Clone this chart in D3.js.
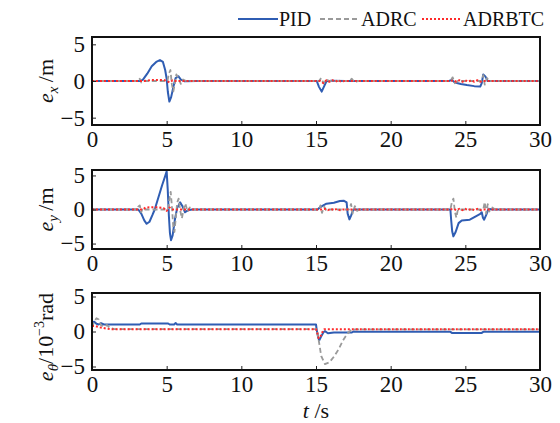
<!DOCTYPE html>
<html>
<head>
<meta charset="utf-8">
<script src="https://cdn.jsdelivr.net/npm/d3@7"></script>
<style>
  body { margin: 0; background: #fff; }
  svg { display: block; }
  svg text { font-family: "Liberation Serif", "Times New Roman", serif; }
</style>
</head>
<body>
<svg id="chart" width="560" height="423"></svg>
<script>
// valores: [t (s), erro]
const xTicks = [0, 5, 10, 15, 20, 25, 30];
const yTicks = [-5, 0, 5];
const seriesNames = ["PID", "ADRC", "ADRBTC"];

const exPID = [[0,0],[3.2,0],[3.4,0.15],[3.7,1.0],[4.0,2.0],[4.3,2.6],[4.55,2.85],[4.75,2.6],[4.9,1.5],[5.0,0.3],[5.08,-1.5],[5.18,-2.8],[5.3,-2.2],[5.45,-0.8],[5.6,0.4],[5.78,0.65],[5.95,0.2],[6.2,-0.05],[7,0],[15.05,0],[15.2,-0.8],[15.38,-1.45],[15.55,-0.7],[15.7,-0.05],[16.0,0.05],[17,0],[23.9,0],[24.1,0.15],[24.3,-0.2],[24.7,-0.4],[25.1,-0.55],[25.6,-0.7],[26.0,-0.75],[26.1,-0.3],[26.2,0.9],[26.35,0.6],[26.5,0],[30,0]];
const exADRC = [[0,0],[3.1,0],[3.2,0.3],[3.3,-0.2],[3.4,0],[5.05,0],[5.15,1.0],[5.25,1.5],[5.35,-0.5],[5.45,-1.4],[5.55,-0.3],[5.65,0.9],[5.8,0.3],[5.95,-0.4],[6.1,0.2],[6.3,0],[15.2,0],[15.35,0.4],[15.5,-0.3],[15.7,0.2],[15.9,0],[17.2,0],[17.4,0.3],[17.6,-0.2],[17.8,0],[24.0,0],[24.15,0.5],[24.3,-0.3],[24.5,0],[26.1,0],[26.2,0.8],[26.3,-0.5],[26.45,0.4],[26.6,0],[30,0]];
const exADRBTC = [[0,0],[3.5,0],[4.0,0.15],[4.8,0.15],[5.0,0],[5.2,-0.2],[5.4,0.1],[5.6,0],[15.3,0],[15.5,-0.3],[15.7,0.1],[15.9,-0.1],[16.1,0.1],[16.3,-0.1],[16.5,0.1],[16.7,-0.1],[16.9,0],[24.0,0],[24.2,0.1],[24.4,-0.1],[24.6,0.1],[24.8,-0.1],[25.0,0.1],[25.2,-0.1],[25.4,0.1],[25.6,-0.1],[25.8,0.1],[26.0,-0.1],[26.2,0],[30,0]];

const eyPID = [[0,0],[3.1,0],[3.3,-0.6],[3.5,-1.6],[3.66,-2.1],[3.85,-1.8],[4.05,-0.8],[4.2,0],[4.45,1.8],[4.7,3.6],[4.9,4.9],[5.0,5.6],[5.07,3.0],[5.15,-1.0],[5.22,-3.5],[5.29,-4.5],[5.4,-3.8],[5.55,-1.5],[5.7,0.2],[5.9,1.05],[6.05,0.5],[6.23,-0.4],[6.45,-0.1],[6.7,0],[15.1,0],[15.2,0.2],[15.4,0.5],[15.7,0.85],[16.2,1.0],[16.6,1.25],[16.85,1.3],[17.05,1.05],[17.12,-0.6],[17.24,-1.45],[17.35,-0.9],[17.5,0],[24.0,0],[24.05,-1.5],[24.12,-3.2],[24.2,-3.95],[24.35,-3.3],[24.55,-2.0],[24.76,-1.6],[25.3,-1.5],[25.7,-1.0],[26.0,-0.65],[26.1,-0.4],[26.18,-1.2],[26.26,-1.5],[26.4,-0.8],[26.55,0.1],[26.8,0],[30,0]];
const eyADRC = [[0,0],[3.05,0],[3.1,0.4],[3.2,0.6],[3.3,-0.4],[3.4,0.2],[3.5,0],[5.1,0],[5.18,1.5],[5.27,2.6],[5.35,0.5],[5.45,-2.8],[5.52,-3.3],[5.6,-1.5],[5.7,1.0],[5.8,1.6],[5.92,-0.3],[6.02,-1.3],[6.15,0.2],[6.25,0.9],[6.4,-0.3],[6.55,0.3],[6.7,0],[15.2,0],[15.3,0.6],[15.4,-0.5],[15.55,0.4],[15.7,-0.2],[15.9,0],[17.2,0],[17.35,0.8],[17.45,-0.6],[17.6,0.5],[17.75,-0.2],[17.9,0],[24.0,0],[24.1,1.1],[24.2,1.6],[24.3,-0.3],[24.4,-1.2],[24.5,0],[26.2,0],[26.3,1.1],[26.4,-0.6],[26.5,0.8],[26.6,-0.3],[26.8,0.3],[27.0,0],[30,0]];
const eyADRBTC = [[0,0],[3.4,0],[3.6,0.3],[4.4,0.35],[4.8,0.2],[5.0,-0.2],[5.2,0.3],[5.4,0],[15.4,0],[15.6,0.1],[15.8,-0.1],[16.0,0.1],[16.2,-0.1],[16.4,0.1],[16.6,-0.1],[16.8,0],[24.0,0],[24.2,0.1],[24.4,-0.1],[24.6,0.1],[24.8,-0.1],[25.0,0.1],[25.2,-0.1],[25.4,0.1],[25.6,-0.1],[25.8,0.1],[26.0,-0.1],[26.2,0],[30,0]];

const etPID = [[0,1.3],[0.15,1.4],[0.3,1.1],[0.45,1.0],[0.6,1.2],[0.8,1.0],[3.2,1.0],[3.3,1.15],[5.1,1.15],[5.2,1.0],[5.5,1.0],[5.6,1.2],[5.7,1.0],[15.0,1.0],[15.05,0.2],[15.15,-0.9],[15.22,-1.25],[15.35,-0.7],[15.5,-0.1],[15.6,0.05],[15.8,-0.25],[16.2,-0.15],[17.4,-0.15],[17.5,0],[17.7,-0.05],[24.0,-0.05],[24.1,-0.2],[26.1,-0.2],[26.2,-0.05],[30,-0.05]];
const etADRC = [[0,0.6],[0.15,1.4],[0.3,1.9],[0.45,1.7],[0.6,0.9],[0.8,0.7],[1.0,0.95],[1.2,0.5],[1.5,0.35],[15.05,0.35],[15.2,-1.5],[15.35,-3.5],[15.6,-4.65],[15.9,-4.4],[16.2,-3.6],[16.5,-2.6],[16.8,-1.3],[17.1,-0.3],[17.35,0.2],[17.6,0.3],[30,0.3]];
const etADRBTC = [[0,0.8],[0.2,0.8],[0.5,0.6],[1.0,0.4],[1.3,0.33],[15.0,0.33],[15.1,-0.3],[15.18,-0.95],[15.3,-0.7],[15.45,0],[15.55,0.33],[30,0.33]];

const cores = { PID: "#2f5db3", ADRC: "#9a9a9a", ADRBTC: "#ff2a2a" };
const estilos = {
  PID:    { dash: null,  width: 2 },
  ADRC:   { dash: "5,3", width: 1.8 },
  ADRBTC: { dash: "2,2", width: 2 }
};

// layout dos três subgráficos
const paineis = [
  { top: 37,  bottom: 125, domain: [-6, 6],     series: [exPID, exADRC, exADRBTC], label: "x" },
  { top: 170, bottom: 249, domain: [-5.8, 5.8], series: [eyPID, eyADRC, eyADRBTC], label: "y" },
  { top: 293, bottom: 370, domain: [-5.5, 5.5], series: [etPID, etADRC, etADRBTC], label: "θ" }
];

const fonte = "'Liberation Serif', 'Times New Roman', serif";
const svg = d3.select("#chart");
const x = d3.scaleLinear().domain([0, 30]).range([92, 540]);

paineis.forEach((p, i) => {
  const y = d3.scaleLinear().domain(p.domain).range([p.bottom, p.top]);
  const g = svg.append("g");

  g.append("clipPath").attr("id", "clip" + i)
    .append("rect")
    .attr("x", x(0)).attr("y", p.top)
    .attr("width", x(30) - x(0)).attr("height", p.bottom - p.top);

  const line = d3.line().x(d => x(d[0])).y(d => y(d[1]));

  p.series.forEach((s, k) => {
    const nome = seriesNames[k];
    g.append("path")
      .datum(s)
      .attr("clip-path", `url(#clip${i})`)
      .attr("fill", "none")
      .attr("stroke", cores[nome])
      .attr("stroke-width", estilos[nome].width)
      .attr("stroke-dasharray", estilos[nome].dash)
      .attr("stroke-linejoin", "round")
      .attr("d", line);
  });

  // eixos com ticks para dentro
  const xAxis = g.append("g")
    .attr("transform", `translate(0,${p.bottom})`)
    .call(d3.axisBottom(x).tickValues(xTicks).tickSize(-4).tickSizeOuter(0).tickPadding(6));
  const yAxis = g.append("g")
    .attr("transform", `translate(${x(0)},0)`)
    .call(d3.axisLeft(y).tickValues(yTicks).tickSize(-4).tickSizeOuter(0).tickPadding(7));

  [xAxis, yAxis].forEach(ax => {
    ax.attr("font-family", fonte).attr("font-size", 23);
    ax.select(".domain").remove();
    ax.selectAll("text").attr("fill", "#111");
    ax.selectAll("line").attr("stroke", "#222").attr("stroke-width", 1);
  });

  g.append("rect")
    .attr("x", x(0)).attr("y", p.top)
    .attr("width", x(30) - x(0)).attr("height", p.bottom - p.top)
    .attr("fill", "none").attr("stroke", "#111").attr("stroke-width", 2);

  // rótulo do eixo y
  const cy = i === 2 ? 337 : (p.top + p.bottom) / 2;
  const t = g.append("text")
    .attr("transform", `translate(53,${cy}) rotate(-90)`)
    .attr("text-anchor", "middle")
    .attr("font-size", 22)
    .attr("fill", "#111");
  t.append("tspan").attr("font-style", "italic").text("e");
  t.append("tspan").attr("font-style", "italic").attr("font-size", 15).attr("dy", 5).text(p.label);
  if (i < 2) {
    t.append("tspan").attr("dy", -5).text("\u2009/m");
  } else {
    t.append("tspan").attr("dy", -5).text("/10");
    t.append("tspan").attr("font-size", 14).attr("dy", -9).text("\u22123");
    t.append("tspan").attr("dy", 9).text("rad");
  }
});

// rótulo do eixo x
const xl = svg.append("text")
  .attr("x", 316).attr("y", 418)
  .attr("text-anchor", "middle")
  .attr("font-size", 22)
  .attr("fill", "#111");
xl.append("tspan").attr("font-style", "italic").text("t");
xl.append("tspan").text(" /s");

// legenda
const legenda = [
  { nome: "PID", x1: 238, x2: 278 },
  { nome: "ADRC", x1: 320, x2: 360 },
  { nome: "ADRBTC", x1: 422, x2: 462 }
];
const lg = svg.append("g");
legenda.forEach(d => {
  lg.append("line")
    .attr("x1", d.x1).attr("x2", d.x2).attr("y1", 19).attr("y2", 19)
    .attr("stroke", cores[d.nome])
    .attr("stroke-width", estilos[d.nome].width)
    .attr("stroke-dasharray", estilos[d.nome].dash);
  lg.append("text")
    .attr("x", d.x2 + 1).attr("y", 26)
    .attr("font-size", 20)
    .attr("fill", "#111")
    .text(d.nome);
});
</script>
</body>
</html>
